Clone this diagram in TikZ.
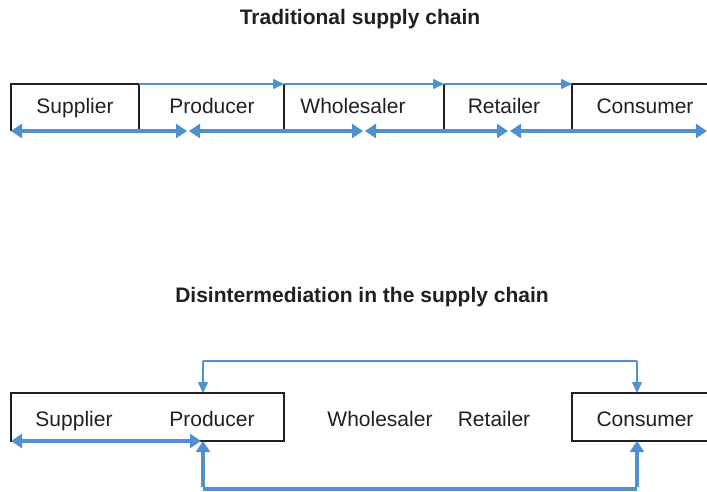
\documentclass[tikz,border=0pt]{standalone}
\usepackage{fontspec}
\setmainfont{Liberation Sans}
\usetikzlibrary{arrows.meta}
\definecolor{lblue}{RGB}{80,144,208}
\definecolor{dk}{RGB}{35,31,32}
\begin{document}
\begin{tikzpicture}[x=1pt,y=-1pt,
 cell/.style={inner sep=0pt, outer sep=0pt, minimum height=47pt, anchor=north west},
 lbl/.style={inner sep=0pt, anchor=base, font=\fontsize{21}{25}\selectfont, text=dk},
 ttl/.style={inner sep=0pt, font=\bfseries\fontsize{21}{25}\selectfont, text=dk},
 boxline/.style={draw=dk, line width=1.2pt},
 thinarr/.style={draw=lblue, line width=1.4pt, -{Triangle[length=11pt,width=10pt]}},
 thinline/.style={draw=lblue, line width=1.4pt},
 thickarr/.style={draw=lblue, line width=3.5pt, {Triangle[length=11pt,width=14pt]}-{Triangle[length=11pt,width=14pt]}},
 thickone/.style={draw=lblue, line width=3.5pt, -{Triangle[length=11pt,width=14pt]}},
 thickline/.style={draw=lblue, line width=3.5pt}]
\useasboundingbox (0,0) rectangle (707,492);

% ---------- Traditional supply chain ----------
\node[ttl] (t1) at (360,19) {Traditional supply chain};

\node[cell, minimum width=128pt] (sup) at (11,84) {};
\node[cell, minimum width=145pt] (pro) at (139,84) {};
\node[cell, minimum width=160pt] (who) at (284,84) {};
\node[cell, minimum width=128pt] (ret) at (444,84) {};
\node[cell, minimum width=150pt] (con) at (572,84) {};

\node[lbl] (supl) at (75,114) {Supplier};
\node[lbl] (prol) at (212,114) {Producer};
\node[lbl] (whol) at (353,114) {Wholesaler};
\node[lbl] (retl) at (504,114) {Retailer};
\node[lbl] (conl) at (645,114) {Consumer};

% black box lines
\draw[boxline] (sup.south west) -- (sup.north west) -- (sup.north east) -- (sup.south east);
\draw[boxline] (who.north west) -- (who.south west);
\draw[boxline] (ret.north west) -- (ret.south west);
\draw[boxline] (con.south west) -- (con.north west) -- (con.north east);

% thin forward arrows along the top
\draw[thinarr] (pro.north west) -- (pro.north east);
\draw[thinarr] (who.north west) -- (who.north east);
\draw[thinarr] (ret.north west) -- (ret.north east);

% thick two-way arrows along the bottom
\coordinate (b0) at (11,131);
\coordinate (b1) at (187,131);
\coordinate (b2) at (189,131);
\coordinate (b3) at (363,131);
\coordinate (b4) at (365,131);
\coordinate (b5) at (508,131);
\coordinate (b6) at (510,131);
\coordinate (b7) at (707,131);
\draw[thickarr] (b0) -- (b1);
\draw[thickarr] (b2) -- (b3);
\draw[thickarr] (b4) -- (b5);
\draw[thickarr] (b6) -- (b7);

% ---------- Disintermediation ----------
\node[ttl] (t2) at (362,297) {Disintermediation in the supply chain};

\node[inner sep=0pt, outer sep=0pt, minimum width=273pt, minimum height=48pt, anchor=north west, draw=dk, line width=1.2pt] (box1) at (11,393) {};
\node[inner sep=0pt, outer sep=0pt, minimum width=150pt, minimum height=48pt, anchor=north west, draw=dk, line width=1.2pt] (box2) at (572,393) {};

\node[lbl] (sup2) at (74,426) {Supplier};
\node[lbl] (pro2) at (212,426) {Producer};
\node[lbl] (who2) at (380,426) {Wholesaler};
\node[lbl] (ret2) at (494,426) {Retailer};
\node[lbl] (con2) at (645,426) {Consumer};

% thin link on top
\coordinate (pt) at (203,393);
\coordinate (ct) at (637,393);
\coordinate (pu) at (203,361);
\coordinate (cu) at (637,361);
\draw[thinline] (pu) -- (cu);
\draw[thinarr] (pu) -- (pt);
\draw[thinarr] (cu) -- (ct);

% thick link below
\coordinate (pb) at (203,441);
\coordinate (cb) at (637,441);
\coordinate (pd) at (203,489);
\coordinate (cd) at (637,489);
\coordinate (sb) at (11,441);
\coordinate (pb2) at (201,441);
\draw[thickline] (pd) -- (cd);
\draw[thickone] ([yshift=1.75pt]pd) -- (pb);
\draw[thickone] ([yshift=1.75pt]cd) -- (cb);
\draw[thickarr] (sb) -- (pb2);
\end{tikzpicture}
\end{document}
